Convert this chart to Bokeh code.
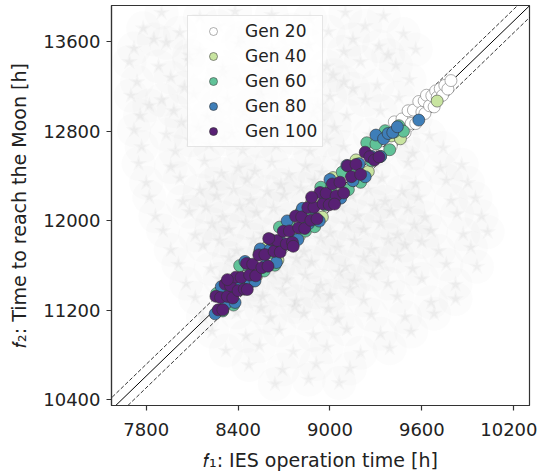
from bokeh.plotting import figure
from bokeh.models import Range1d, FixedTicker, Slope
from bokeh.embed import file_html
from bokeh.resources import INLINE

# ---------------- data ----------------
x_ticks = [7800, 8400, 9000, 9600, 10200]
y_ticks = [10400, 11200, 12000, 12800, 13600]
x_lim = [7573, 10303]
y_lim = [10349, 13924]

diag_slope = 1.322
diag_intercept = 301
band_offset = 105

gen_labels = ["Gen 20", "Gen 40", "Gen 60", "Gen 80", "Gen 100"]
gen_colors = ["#ffffff", "#c8e4a0", "#60c298", "#3e7eb8", "#582074"]
gen_edges = ["#777777", "#444444", "#444444", "#333333", "#333333"]

gen20_x = [9300, 9340, 9380, 9400, 9420, 9450, 9470, 9490, 9510, 9530, 9545, 9560, 9580, 9600,
           9615, 9620, 9630, 9650, 9665, 9680, 9690, 9700, 9720, 9735, 9750, 9770, 9790]
gen20_y = [12716, 12609, 12781, 12668, 12884, 12774, 12910, 12787, 12983, 12870, 12989, 12869, 13066, 12972,
           13072, 12959, 13122, 13028, 13118, 13018, 13161, 13104, 13181, 13121, 13210, 13177, 13253]

gen40_x = [8280, 8360, 8430, 8520, 8590, 8660, 8730, 8800, 8880, 8950, 9020, 9090, 9170, 9250,
           9320, 9400, 9460, 9700]
gen40_y = [11368, 11263, 11606, 11505, 11767, 11650, 11993, 11865, 12161, 12033, 12386, 12258, 12544, 12440,
           12722, 12758, 12733, 13070]

gen60_x = [8260, 8300, 8340, 8370, 8410, 8440, 8470, 8500, 8540, 8570, 8600, 8640, 8670, 8700,
           8740, 8770, 8810, 8840, 8870, 8900, 8940, 8970, 9010, 9040, 9080, 9120, 9160, 9200,
           9240, 9270, 9300, 9330, 9360, 9390, 9420, 9450, 9480]
gen60_y = [11351, 11194, 11367, 11247, 11599, 11439, 11589, 11478, 11721, 11551, 11711, 11603, 11943, 11783,
           11946, 11835, 12078, 11908, 12068, 11947, 12300, 12140, 12303, 12192, 12435, 12278, 12451, 12344,
           12697, 12536, 12686, 12575, 12805, 12635, 12794, 12850, 12800]

gen80_x = [8250, 8290, 8320, 8350, 8380, 8410, 8445, 8480, 8510, 8545, 8580, 8610, 8650, 8685,
           8720, 8750, 8790, 8820, 8860, 8890, 8930, 8960, 9000, 9030, 9070, 9110, 9150, 9190,
           9230, 9270, 9300, 9330, 9350, 9380, 9410, 9440, 9580]
gen80_y = [11168, 11411, 11260, 11400, 11270, 11439, 11636, 11452, 11462, 11748, 11604, 11744, 11627, 11803,
           11999, 11809, 11832, 12111, 11974, 12114, 11997, 12166, 12369, 12179, 12202, 12495, 12358, 12510,
           12393, 12576, 12766, 12575, 12733, 12780, 12790, 12840, 12900]

gen100_x = [8255, 8270, 8285, 8300, 8315, 8330, 8350, 8365, 8385, 8400,
            8420, 8440, 8455, 8475, 8495, 8515, 8535, 8555, 8575, 8595,
            8615, 8635, 8655, 8675, 8695, 8715, 8735, 8755, 8775, 8795,
            8815, 8835, 8855, 8875, 8895, 8915, 8935, 8955, 8975, 8995,
            9015, 9040, 9065, 9090, 9115, 9140, 9170, 9200, 9230,
            8330, 8460, 8600, 8760, 8880, 9030, 9260, 9290, 9320]
gen100_y = [11325, 11204, 11314, 11204, 11434, 11324, 11420, 11310, 11496, 11376,
            11493, 11389, 11619, 11515, 11612, 11508, 11695, 11581, 11698, 11594,
            11830, 11727, 11823, 11720, 11906, 11793, 11909, 11806, 12042, 11938,
            12035, 11931, 12118, 12004, 12121, 12017, 12253, 12150, 12246, 12143,
            12329, 12222, 12345, 12248, 12491, 12394, 12504, 12414, 12613,
            11474, 11386, 11841, 11772, 12211, 12149, 12573, 12543, 12570]

# background cloud of all evaluated designs (grey stars)
cloud_pts = [
    (7900, 13860), (8150, 13820), (8380, 13870), (8620, 13840), (8870, 13800), (9100, 13860), (9350, 13830),
    (7780, 13720), (8020, 13680), (8270, 13740), (8500, 13660), (8750, 13710), (8990, 13690), (9230, 13740), (9480, 13670),
    (7720, 13540), (7930, 13590), (8150, 13520), (8400, 13580), (8620, 13530), (8860, 13570), (9090, 13510), (9320, 13560), (9560, 13530),
    (7690, 13420), (7880, 13380), (8080, 13430), (8300, 13370), (8520, 13410), (8760, 13440), (8980, 13380), (9200, 13420), (9430, 13390),
    (7740, 13240), (7960, 13280), (8190, 13220), (8410, 13260), (8640, 13230), (8870, 13280), (9090, 13240), (9310, 13210), (9520, 13260),
    (7700, 13120), (7900, 13080), (8110, 13130), (8330, 13090), (8550, 13120), (8780, 13070), (9000, 13110), (9230, 13080), (9450, 13100),
    (7760, 12940), (7980, 12980), (8200, 12930), (8440, 12970), (8660, 12920), (8890, 12960), (9110, 12940), (9330, 12980), (9560, 12920),
    (7720, 12810), (7930, 12770), (8140, 12830), (8360, 12780), (8580, 12820), (8810, 12790), (9030, 12830), (9260, 12770), (9480, 12700), (9650, 12760),
    (7770, 12660), (7990, 12620), (8210, 12680), (8430, 12630), (8650, 12670), (8870, 12620), (9090, 12660), (9320, 12640), (9540, 12600), (9740, 12650),
    (7750, 12510), (7960, 12480), (8180, 12530), (8400, 12470), (8620, 12520), (8840, 12490), (9060, 12530), (9290, 12480), (9510, 12520), (9720, 12470), (9860, 12500),
    (7800, 12340), (8020, 12380), (8240, 12330), (8460, 12370), (8680, 12320), (8900, 12360), (9120, 12340), (9340, 12380), (9560, 12330), (9760, 12360), (9900, 12340),
    (7820, 12210), (8040, 12170), (8260, 12220), (8480, 12180), (8700, 12230), (8920, 12190), (9140, 12220), (9360, 12170), (9580, 12210), (9790, 12180), (9950, 12200),
    (7860, 12040), (8080, 12080), (8300, 12030), (8520, 12070), (8740, 12020), (8960, 12060), (9180, 12040), (9400, 12080), (9620, 12030), (9830, 12060), (9990, 12040),
    (7910, 11910), (8120, 11870), (8340, 11920), (8560, 11880), (8780, 11930), (9000, 11890), (9220, 11920), (9440, 11870), (9660, 11910), (9870, 11880), (10030, 11900),
    (7960, 11740), (8170, 11780), (8390, 11730), (8610, 11770), (8830, 11720), (9050, 11760), (9270, 11740), (9490, 11780), (9710, 11730), (9920, 11760),
    (8010, 11610), (8220, 11570), (8440, 11620), (8660, 11580), (8880, 11630), (9100, 11590), (9320, 11620), (9540, 11570), (9760, 11610), (9960, 11590),
    (8060, 11440), (8280, 11480), (8500, 11430), (8720, 11470), (8940, 11420), (9160, 11460), (9380, 11440), (9600, 11480), (9820, 11430),
    (8120, 11310), (8340, 11270), (8560, 11320), (8780, 11280), (9000, 11330), (9220, 11290), (9440, 11320), (9660, 11270), (9820, 11300),
    (8170, 11140), (8390, 11180), (8610, 11130), (8830, 11170), (9050, 11120), (9270, 11160), (9490, 11140), (9680, 11170),
    (8230, 11010), (8450, 10970), (8670, 11020), (8890, 10980), (9110, 11030), (9330, 10990), (9530, 11010),
    (8320, 10840), (8540, 10880), (8760, 10830), (8980, 10870), (9200, 10820), (9390, 10860),
    (8470, 10710), (8690, 10670), (8910, 10720), (9130, 10680),
    (8640, 10540), (8860, 10580), (9060, 10550),
    (8030, 12880), (8250, 12870), (8480, 12890), (8700, 12860), (8920, 12880),
    (8090, 12720), (8310, 12730), (8540, 12710), (8760, 12740), (8980, 12720),
    (8290, 12420), (8510, 12440), (8730, 12410), (8950, 12430), (9170, 12420),
    (8150, 12270), (8370, 12280), (8590, 12260), (8810, 12290), (9030, 12270), (9250, 12280), (9470, 12260),
    (8190, 12120), (8410, 12130), (8630, 12110), (8850, 12140), (9070, 12120), (9290, 12130), (9510, 12110),
    (8230, 11970), (8450, 11980), (8670, 11960), (8890, 11990), (9110, 11970), (9330, 11980), (9550, 11960),
    (8280, 11820), (8500, 11830), (8720, 11810), (8940, 11840), (9160, 11820), (9380, 11830), (9600, 11810),
    (8340, 11670), (8560, 11680), (8780, 11660), (9000, 11690), (9220, 11670), (9440, 11680),
    (8400, 11520), (8620, 11530), (8840, 11510), (9060, 11540), (9280, 11520),
    (8470, 11370), (8690, 11380), (8910, 11360), (9130, 11390),
    (8550, 11220), (8770, 11230), (8990, 11210),
    (7850, 13620), (8080, 13480), (8300, 13320), (8540, 13170), (7820, 13030), (8050, 13190), (8620, 13330),
    (8420, 13630), (8730, 13480), (9020, 13300), (8260, 13030), (8480, 13040), (8700, 13180), (8920, 13030),
    (9150, 13180), (9380, 13480), (9150, 13620),
]
cloud_x = [pt[0] for pt in cloud_pts]
cloud_y = [pt[1] for pt in cloud_pts]

# ---------------- figure ----------------
p = figure(frame_width=418, frame_height=400,
           x_range=Range1d(x_lim[0], x_lim[1]), y_range=Range1d(y_lim[0], y_lim[1]),
           output_backend="svg", toolbar_location=None,
           min_border_left=111, min_border_right=8, min_border_top=5, min_border_bottom=66,
           background_fill_color="white", border_fill_color="white")

# faint haze of the whole design population
p.scatter(cloud_x, cloud_y, marker="circle", size=34, fill_color="#9a9a9a",
          fill_alpha=0.03, line_color=None)
for sz, al in [(18, 0.06), (10, 0.07)]:
    p.scatter(cloud_x, cloud_y, marker="star", size=sz, fill_color="#9a9a9a",
              fill_alpha=al, line_color=None)

for off, dash, lw in [(0, "solid", 1.0), (band_offset, "4 2", 0.8), (-band_offset, "4 2", 0.8)]:
    p.add_layout(Slope(gradient=diag_slope, y_intercept=diag_intercept + off,
                       line_color="black", line_width=lw, line_dash=dash, level="underlay"))

gens_x = [gen20_x, gen40_x, gen60_x, gen80_x, gen100_x]
gens_y = [gen20_y, gen40_y, gen60_y, gen80_y, gen100_y]
for gx, gy, lab, col, edge in zip(gens_x, gens_y, gen_labels, gen_colors, gen_edges):
    p.scatter(gx, gy, marker="circle", size=12, fill_color=col, line_color=edge,
              line_width=0.6, legend_label=lab)

# axes
p.xaxis.ticker = FixedTicker(ticks=x_ticks)
p.yaxis.ticker = FixedTicker(ticks=y_ticks)
p.xgrid.visible = False
p.ygrid.visible = False
for ax in [p.xaxis[0], p.yaxis[0]]:
    ax.major_tick_out = 5
    ax.major_tick_in = 0
    ax.minor_tick_out = 0
    ax.minor_tick_in = 0
    ax.major_tick_line_color = "#333333"
    ax.major_tick_line_width = 1.2
    ax.axis_line_color = "#333333"
    ax.axis_line_width = 1.2
    ax.major_label_text_font = "DejaVu Sans"
    ax.major_label_text_font_size = "18px"
    ax.major_label_text_color = "#222222"
    ax.axis_label_text_font = "DejaVu Sans"
    ax.axis_label_text_font_size = "19px"
    ax.axis_label_text_font_style = "normal"
    ax.axis_label_text_color = "#222222"

p.xaxis.axis_label = "\U0001D453\u2081: IES operation time [h]"
p.yaxis.axis_label = "\U0001D453\u2082: Time to reach the Moon [h]"
p.xaxis.major_label_standoff = 12
p.yaxis.major_label_standoff = 6
p.xaxis.axis_label_standoff = 10
p.yaxis.axis_label_standoff = 10

p.outline_line_color = "#333333"
p.outline_line_width = 1.2
p.outline_line_alpha = 1.0

lg = p.legend[0]
lg.location = (76, 258)
lg.label_text_font = "DejaVu Sans"
lg.label_text_font_size = "17px"
lg.label_text_color = "#222222"
lg.border_line_color = "#cccccc"
lg.border_line_width = 1
lg.background_fill_color = "white"
lg.background_fill_alpha = 0.8
lg.padding = 5
lg.spacing = 5
lg.glyph_width = 40
lg.glyph_height = 20
lg.label_height = 20
lg.label_standoff = 12
lg.margin = 0

open("out.html", "w").write(file_html(p, INLINE))
